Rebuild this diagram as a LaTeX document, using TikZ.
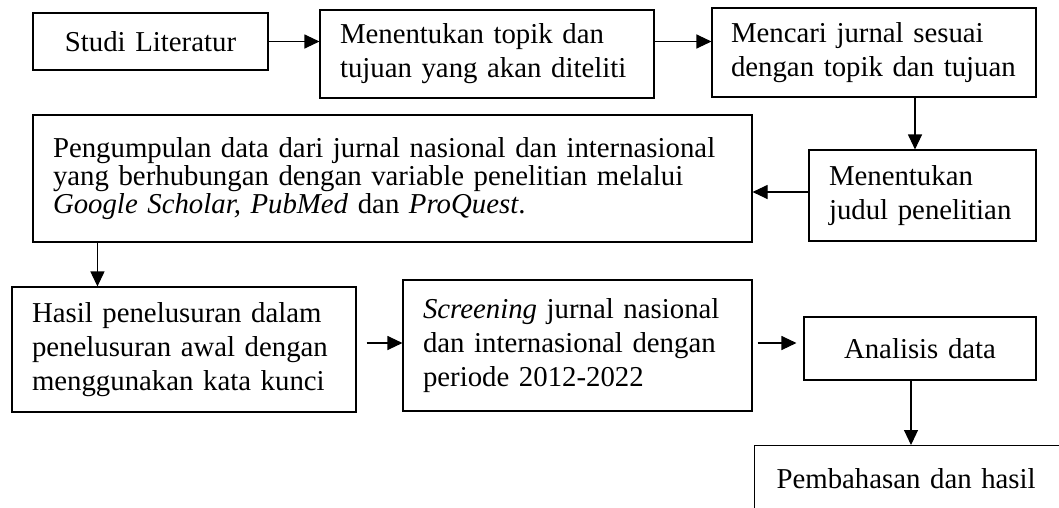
\documentclass[tikz,border=0pt]{standalone}
\usepackage{fontspec}
\setmainfont{Liberation Serif}
\usetikzlibrary{arrows.meta}
\begin{document}
\begin{tikzpicture}[x=1pt,y=-1pt,line width=1.1pt,>={Triangle[length=15pt,width=14pt]},
    box/.style={draw,inner sep=0pt,font=\fontsize{28.8}{34.2}\selectfont},
    arr/.style={->}]
        \clip (0,0) rectangle (1059,507);
        \node[box,minimum width=235,minimum height=57,text width=215,align=center] (s1) at (150.5,41.5) {Studi Literatur};
        \node[box,minimum width=334,minimum height=88,text width=294,align=left] (s2) at (487,54) {Menentukan topik dan\\tujuan yang akan diteliti};
        \node[box,minimum width=324,minimum height=89,text width=286,align=left] (s3) at (874,52.5) {Mencari jurnal sesuai\\dengan topik dan tujuan};
        \node[box,minimum width=227,minimum height=91,text width=187,align=left] (s4) at (922.5,195.5) {Menentukan\\judul penelitian};
        \node[box,minimum width=719,minimum height=127,text width=679,align=left,font=\fontsize{28.8}{28.4}\selectfont] (s5) at (392.5,178.5)
            {Pengumpulan data dari jurnal nasional dan internasional\\yang berhubungan dengan variable penelitian melalui\\\textit{Google Scholar, PubMed} dan \textit{ProQuest}.};
        \node[box,minimum width=344,minimum height=125,text width=304,align=left] (s6) at (184,349.5) {Hasil penelusuran dalam\\penelusuran awal dengan\\menggunakan kata kunci};
        \node[box,minimum width=349,minimum height=131,text width=309,align=left] (s7) at (577.5,345.5) {\textit{Screening} jurnal nasional\\dan internasional dengan\\periode 2012-2022};
        \node[box,minimum width=232,minimum height=63,text width=212,align=center] (s8) at (920,348.5) {Analisis data};
        \node[box,minimum width=330,minimum height=66,text width=286,align=left,anchor=north west] (s9) at (754,445) {Pembahasan dan hasil};
        % alur
        \draw[arr] (s1.east) -- (s1.east -| s2.west);
        \draw[arr] (s2.east |- s1.east) -- (s3.west |- s1.east);
        \draw[arr] ([xshift=-7.5pt]s4.north |- s3.south) -- ([xshift=-7.5pt]s4.north);
        \draw[arr] ([yshift=3.5pt]s4.west) -- ([yshift=3.5pt]s4.west -| s5.east);
        \draw[arr] ([xshift=65pt]s5.south west) -- ([xshift=65pt]s5.south west |- s6.north);
        \draw[arr,shorten <=10pt] ([yshift=6.5pt]s6.east) -- ([yshift=6.5pt]s6.east -| s7.west);
        \draw[arr,shorten <=5pt,shorten >=7pt] ([yshift=2.5pt]s7.east) -- ([yshift=2.5pt]s7.east -| s8.west);
        \draw[arr] ([xshift=-9pt]s8.south) -- ([xshift=-9pt]s8.south |- s9.north);
\end{tikzpicture}
\end{document}
